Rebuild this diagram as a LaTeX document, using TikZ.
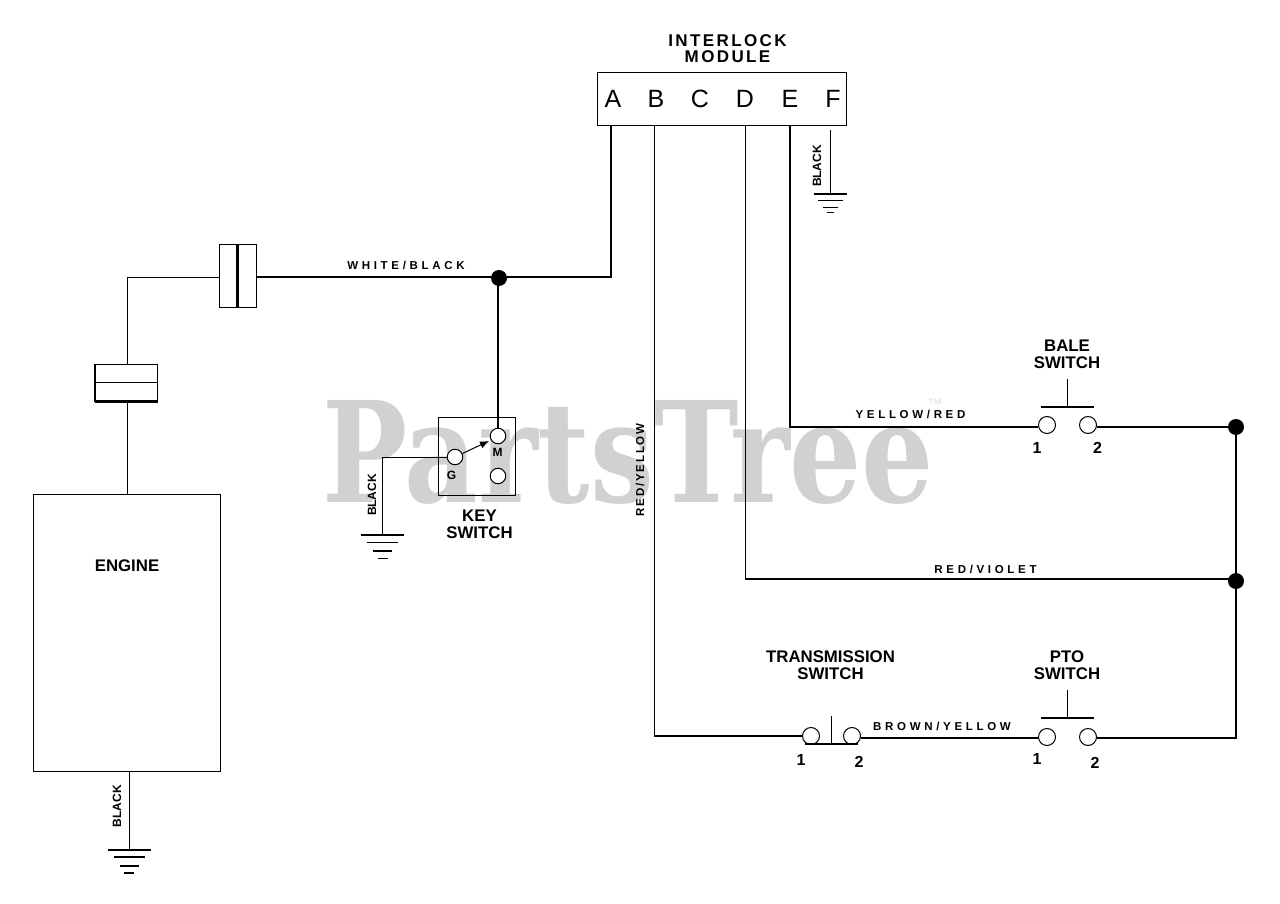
\documentclass[tikz,border=0pt]{standalone}
\usepackage{fontspec}
\usetikzlibrary{calc,arrows.meta}
\setmainfont{Liberation Sans}
\newfontfamily\wmfont[FakeStretch=0.81]{DejaVu Serif}
\newfontfamily\tmfont{Liberation Sans}
\newfontfamily\spacedA[LetterSpace=14]{Liberation Sans}
\newfontfamily\spacedB[LetterSpace=32]{Liberation Sans}
\newfontfamily\spacedC[LetterSpace=16]{Liberation Sans}
\tikzset{
  x=1pt,y=-1pt,
  thinw/.style={line width=1pt},
  midw/.style={line width=1.5pt},
  thickw/.style={line width=2pt},
  boxs/.style={draw=black,line width=1pt,rectangle,minimum width=#1,inner sep=0pt},
  term/.style={draw=black,fill=white,circle,line width=1pt,minimum size=17pt,inner sep=0pt},
  keyterm/.style={term,minimum size=15.5pt},
  jdot/.style={fill=black,circle,minimum size=16pt,inner sep=0pt},
  title/.style={font=\fontsize{16.8}{17}\selectfont\bfseries,align=center,inner sep=0pt},
  wide/.style={font=\fontsize{17}{17}\spacedA\bfseries,align=center,inner sep=0pt},
  wirelab/.style={font=\fontsize{11.5}{12}\spacedB\bfseries,inner sep=0pt},
  blacklab/.style={font=\fontsize{12}{12}\selectfont\bfseries,inner sep=0pt,rotate=90},
  pinno/.style={font=\fontsize{16}{16}\selectfont\bfseries,inner sep=0pt},
  letterlab/.style={font=\fontsize{25}{25}\selectfont,inner sep=0pt},
  smalllab/.style={font=\fontsize{12}{12}\selectfont\bfseries,inner sep=0pt},
}
\newcommand{\gnd}[3]{%
  \coordinate (#1) at (#2,#3);
  \draw[line width=2pt] ($(#1)+(-21.5,0)$) -- ($(#1)+(21.5,0)$);
  \draw[line width=1.2pt] ($(#1)+(-15.5,7.5)$) -- ($(#1)+(15.5,7.5)$);
  \draw[line width=2pt] ($(#1)+(-9.5,16)$) -- ($(#1)+(9.5,16)$);
  \draw[line width=1.2pt] ($(#1)+(-5,23.5)$) -- ($(#1)+(5,23.5)$);
}
\newcommand{\swbar}[3]{%
  \coordinate (#1) at (#2,#3);
  \draw[thickw] ($(#1)+(-26.5,0)$) -- ($(#1)+(26.5,0)$);
  \draw[thinw] (#1) -- ($(#1)+(0,-28)$);
}
\begin{document}
\begin{tikzpicture}
\useasboundingbox (0,0) rectangle (1280,904);
% watermark
\node[anchor=base west,inner sep=0pt,text=black!18,font=\fontsize{140}{140}\wmfont\bfseries] (wm) at (322,502) {PartsTree};
\node[inner sep=0pt,text=black!12,font=\fontsize{15}{15}\tmfont] (tm) at (935,404) {™};

% module
\node[boxs=249pt,minimum height=53pt] (module) at (721.5,99.5) {};
\node[wide] (modtitle) at (727.5,48.5) {INTERLOCK\\[-1pt]MODULE};
\foreach \l/\x in {A/613,B/656,C/700,D/745,E/790,F/833}{
  \node[letterlab] (let\l) at (\x,99) {\l};
}
\coordinate (pinA) at (611,126);
\coordinate (pinB) at (654,126);
\coordinate (pinD) at (745,126);
\coordinate (pinE) at (790,126);
\coordinate (pinF) at (830,130);

% engine side
\node[boxs=187pt,minimum height=277pt] (engine) at (126.5,632.5) {};
\node[title] (enginelab) at (127,566) {ENGINE};
\node[boxs=62pt,minimum height=37pt] (conn1) at (126.5,382.5) {};
\draw[thinw] (conn1.west) -- (conn1.east);
\draw[line width=2.2pt] (conn1.south west) -- (conn1.south east);
\draw[line width=2.2pt] (conn1.south west) -- (conn1.north west);
\node[boxs=37pt,minimum height=62pt] (conn2) at (237.5,276) {};
\draw[line width=2.2pt] (conn2.north) -- (conn2.south);
\coordinate (elbowL) at (127,277);
\coordinate (engtop) at (127,494);
\node[jdot] (j1) at (499,278) {};
\coordinate (elbowA) at (611,277);
\draw[thinw] (engine.north -| engtop) -- (conn1.south -| engtop);
\draw[thinw] (conn1.north -| engtop) -- (elbowL) -- (conn2.west |- elbowL);
\draw[midw] (conn2.east |- elbowL) -- (elbowL -| j1);
\draw[thickw] (elbowL -| j1) -- (elbowA) -- (pinA);
\node[wirelab] (wb) at (406,265.5) {WHITE/BLACK};

% grounds
\gnd{gndE}{129}{849.5}
\gnd{gndK}{382.5}{535}
\coordinate (gndF) at (830.5,194);
\draw[line width=1.6pt] (814,194) -- (847,194);
\draw[line width=1pt] (818,201) -- (843,201);
\draw[line width=1.6pt] (823,207.5) -- (838,207.5);
\draw[line width=1pt] (827,213) -- (834,213);
\draw[thinw] (engine.south -| gndE) -- (gndE);
\node[blacklab] (blE) at (117,806) {BLACK};
\draw[thinw] (pinF -| gndF) -- (gndF);
\node[blacklab] (blF) at (817,166) {BLACK};

% key switch
\node[boxs=77pt,minimum height=78pt] (key) at (476.5,456) {};
\node[keyterm] (M) at (498,436) {};
\node[keyterm] (G) at (455,457) {};
\node[keyterm] (X) at (498,476) {};
\coordinate (arrowend) at (489,441);
\draw[thinw,-{Latex[length=9pt,width=7.5pt]}] (G) -- (arrowend);
\node[smalllab] (Ml) at (497.5,452.5) {M};
\node[smalllab] (Gl) at (451.5,475) {G};
\node[title] (keylab) at (479.5,524) {KEY\\[0pt]SWITCH};
\draw[line width=2.4pt] (j1 -| M) -- (M.north);
\coordinate (elbowG) at (382.5,457);
\draw[thinw] (G) -- (elbowG) -- (gndK);
\node[blacklab] (blK) at (372,495) {BLACK};

% right side
\node[term] (b1) at (1047,425) {};
\node[term] (b2) at (1088,425) {};
\node[term] (p1) at (1047,737) {};
\node[term] (p2) at (1088,737) {};
\node[term] (t1) at (811,736) {};
\node[term] (t2) at (852,736) {};
\node[jdot] (j2) at (1236,427) {};
\node[jdot] (j3) at (1236,581) {};
\coordinate (elbowB) at (654,736);
\coordinate (elbowD) at (745,579);
\coordinate (elbowE) at (790,427);
\coordinate (elbowP) at (1236,738);

\draw[thickw] (pinE) -- (elbowE) -- (b1.west |- elbowE);
\draw[thickw] (b2.east |- j2) -- (j2);
\draw[thinw] (pinB) -- (elbowB);
\draw[thickw] (elbowB) -- (t1.west);
\draw[thinw] (pinD) -- (elbowD);
\draw[thickw] (elbowD) -- (elbowD -| j3);
\draw[thickw] (t2.east |- elbowP) -- (p1.west |- elbowP);
\draw[thickw] (p2.east |- elbowP) -- (elbowP) -- (j3) -- (j2);

% switch bars
\swbar{barB}{1067.5}{407}
\swbar{barP}{1067.5}{718}
\swbar{barT}{831.5}{744}

\node[title] (bale) at (1067,354) {BALE\\[0pt]SWITCH};
\node[title] (pto) at (1067,665) {PTO\\[0pt]SWITCH};
\node[title] (trans) at (830.5,665) {TRANSMISSION\\[0pt]SWITCH};

\node[pinno] (nb1) at (1037,448) {1};
\node[pinno] (nb2) at (1097.5,448) {2};
\node[pinno] (np1) at (1037,759) {1};
\node[pinno] (np2) at (1095,763) {2};
\node[pinno] (nt1) at (801,760) {1};
\node[pinno] (nt2) at (859,762) {2};

\node[wirelab] (yr) at (910.5,414.5) {YELLOW/RED};
\node[wirelab] (rv) at (985.5,569.5) {RED/VIOLET};
\node[wirelab] (by) at (942,726.5) {BROWN/YELLOW};
\node[blacklab,font=\fontsize{11.5}{12}\spacedC\bfseries] (ry) at (640,470) {RED/YELLOW};
\end{tikzpicture}
\end{document}
